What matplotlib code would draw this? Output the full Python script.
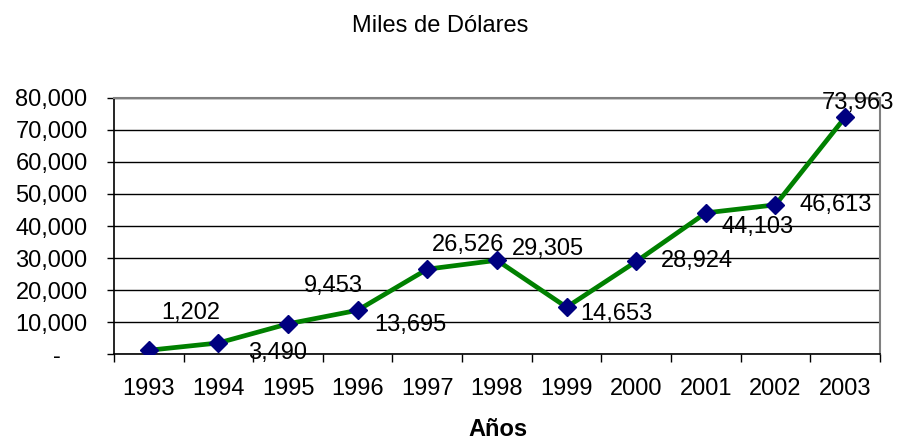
import numpy as np
import matplotlib
matplotlib.use("Agg")
import matplotlib.pyplot as plt
from matplotlib.ticker import FuncFormatter

plt.rcParams['font.family'] = ['Liberation Sans', 'DejaVu Sans']

anios = ["1993", "1994", "1995", "1996", "1997", "1998",
         "1999", "2000", "2001", "2002", "2003"]
valores = [1202, 3490, 9453, 13695, 26526, 29305,
           14653, 28924, 44103, 46613, 73963]

# label offsets in pixels (Excel-like placement)
offsets = [(42, 37), (59, -10), (45, 38), (53, -15), (41, 24), (51, 11),
           (50, -7), (61, 0), (52, -14), (60, 0), (13, 14)]

fs = 17

fig = plt.figure(figsize=(8.97, 4.41), dpi=100)
ax = fig.add_axes([0.127, 0.197, 0.854, 0.581])

x = np.arange(len(anios))
ax.plot(x, valores, color="#008000", lw=3.4, zorder=3)
ax.plot(x, valores, "D", color="#000080", ms=9.5, zorder=4)

for i, v in enumerate(valores):
    ax.annotate(f"{v:,}", (x[i], v), xytext=offsets[i], textcoords="offset pixels",
                ha="center", va="center", fontsize=fs, zorder=5)

ax.set_ylim(0, 80000)
ax.set_yticks(np.arange(0, 80001, 10000))
ax.yaxis.set_major_formatter(FuncFormatter(lambda v, p: "-    " if v == 0 else f"{int(v):,}"))
ax.grid(axis="y", color="black", lw=1)
ax.set_axisbelow(True)

ax.set_xlim(-0.5, len(anios) - 0.5)
ax.set_xticks(x)
ax.set_xticklabels(anios)
ax.set_xticks(np.arange(-0.5, len(anios), 1), minor=True)
ax.tick_params(axis="x", which="major", length=0, pad=17, labelsize=fs)
ax.tick_params(axis="x", which="minor", length=6, width=1)
ax.tick_params(axis="y", length=5, width=1, pad=14, labelsize=fs)

for s in ["top", "right"]:
    ax.spines[s].set_color("#808080")
    ax.spines[s].set_linewidth(1.5)
for s in ["left", "bottom"]:
    ax.spines[s].set_color("black")
    ax.spines[s].set_linewidth(1.2)

fig.text(440 / 897, 1 - 26 / 441, "Miles de Dólares", ha="center", va="center", fontsize=fs)
fig.text(498 / 897, 1 - 430 / 441, "Años", ha="center", va="center", fontsize=fs,
         fontweight="bold")

fig.savefig("out.png", dpi=100)
